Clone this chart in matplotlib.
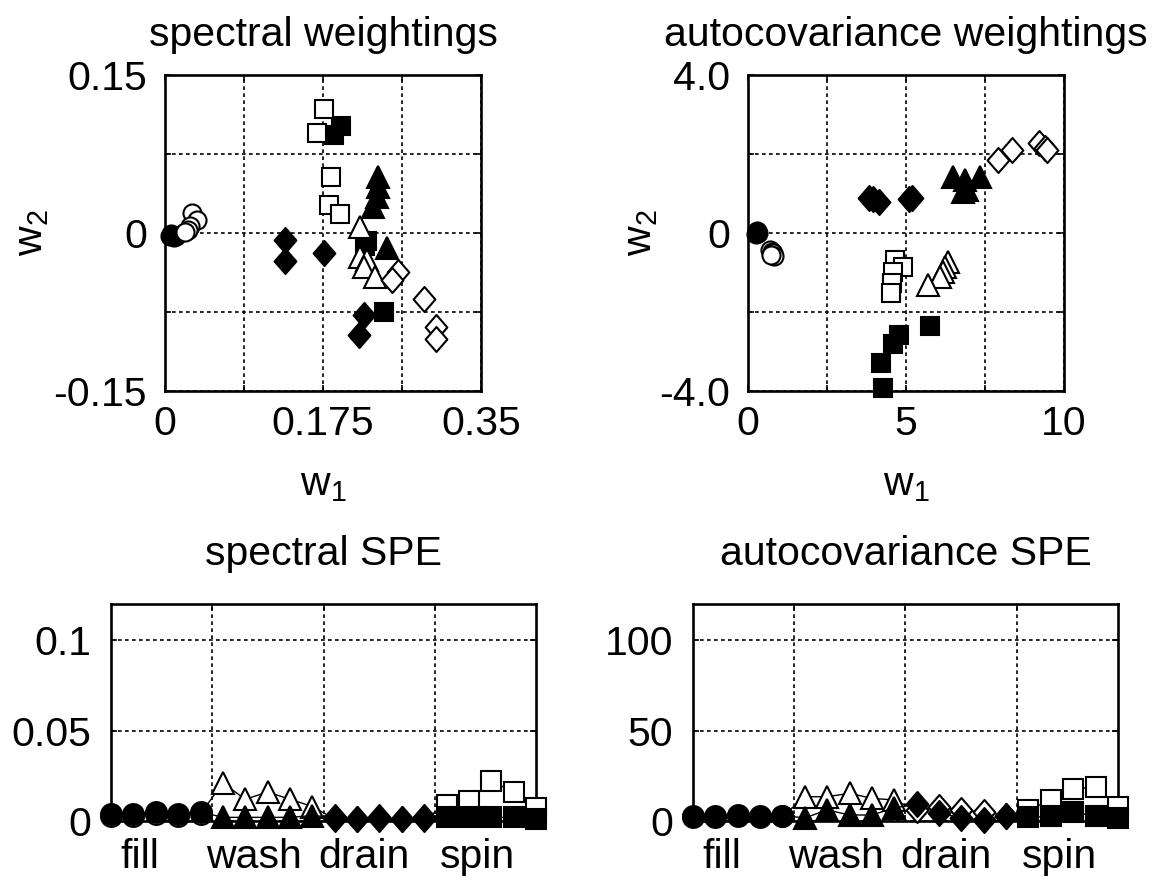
import matplotlib
matplotlib.use("agg")
import matplotlib.pyplot as plt
from matplotlib.path import Path
from matplotlib.ticker import FixedLocator, FixedFormatter

plt.rcParams['font.family'] = ['Liberation Sans', 'DejaVu Sans']
plt.rcParams['mathtext.fontset'] = 'custom'
plt.rcParams['mathtext.rm'] = 'Liberation Sans'
plt.rcParams['mathtext.it'] = 'Liberation Sans'
plt.rcParams['font.size'] = 29.5
plt.rcParams['axes.titlesize'] = 29.5

phases = ['fill', 'wash', 'drain', 'spin']
# 5 runs per phase, listed fill, wash, drain, spin
# "a" = filled markers, "b" = open markers

spec_w1_a = [0.005, 0.008, 0.010, 0.012, 0.007,
             0.236, 0.236, 0.235, 0.230, 0.246,
             0.133, 0.133, 0.176, 0.220, 0.215,
             0.195, 0.187, 0.243, 0.224, 0.221]
spec_w2_a = [-0.003, -0.002, -0.004, -0.003, -0.001,
             0.053, 0.044, 0.034, 0.025, -0.014,
             -0.007, -0.027, -0.019, -0.078, -0.097,
             0.102, 0.093, -0.075, -0.008, -0.012]
spec_w1_b = [0.030, 0.035, 0.028, 0.025, 0.022,
             0.216, 0.216, 0.224, 0.220, 0.233,
             0.258, 0.251, 0.287, 0.300, 0.300,
             0.176, 0.168, 0.184, 0.182, 0.194]
spec_w2_b = [0.019, 0.012, 0.007, 0.003, 0.001,
             0.006, -0.023, -0.026, -0.032, -0.042,
             -0.037, -0.045, -0.063, -0.089, -0.101,
             0.118, 0.095, 0.053, 0.027, 0.018]

acov_w1_a = [0.30, 0.28, 0.32, 0.26, 0.30,
             6.49, 6.87, 7.34, 6.80, 6.93,
             3.83, 4.15, 5.19, 3.95, 5.10,
             5.76, 4.78, 4.59, 4.21, 4.27]
acov_w2_a = [0.05, 0.02, 0.00, -0.02, 0.03,
             1.42, 1.34, 1.42, 1.04, 1.09,
             0.89, 0.78, 0.89, 0.85, 0.85,
             -2.35, -2.58, -2.81, -3.29, -3.92]
acov_w1_b = [0.70, 0.76, 0.79, 0.82, 0.74,
             6.33, 6.23, 6.17, 6.08, 5.70,
             7.91, 8.35, 9.21, 9.40, 9.46,
             4.65, 4.91, 4.59, 4.56, 4.53]
acov_w2_b = [-0.43, -0.48, -0.51, -0.58, -0.55,
             -0.73, -0.86, -0.99, -1.11, -1.32,
             1.85, 2.10, 2.28, 2.15, 2.10,
             -0.68, -0.86, -0.99, -1.27, -1.52]

spec_spe_a = [0.004, 0.004, 0.005, 0.004, 0.005,
              0.002, 0.002, 0.002, 0.002, 0.003,
              0.002, 0.001, 0.002, 0.001, 0.002,
              0.002, 0.002, 0.002, 0.002, 0.001]
spec_spe_b = [0.003, 0.003, 0.004, 0.003, 0.004,
              0.021, 0.012, 0.016, 0.012, 0.008,
              0.001, 0.001, 0.001, 0.001, 0.001,
              0.009, 0.011, 0.022, 0.016, 0.007]
acov_spe_a = [2.5, 2.5, 2.5, 2.5, 3.0,
              1.7, 6.1, 3.3, 3.3, 7.2,
              9.5, 4.5, 1.5, 0.5, 3.0,
              2.0, 2.5, 5.0, 2.5, 1.5]
acov_spe_b = [2.0, 2.0, 3.5, 2.0, 2.5,
              13.4, 13.4, 15.3, 12.5, 11.6,
              6.0, 7.5, 6.0, 5.0, 3.0,
              6.1, 11.6, 17.7, 18.8, 7.7]

# matlab-like diamond, a bit taller than wide
diamond = Path([(0, 1), (0.87, 0), (0, -1), (-0.87, 0), (0, 1)],
               [Path.MOVETO, Path.LINETO, Path.LINETO, Path.LINETO, Path.CLOSEPOLY])
markers = {'fill': 'o', 'wash': '^', 'drain': diamond, 'spin': 's'}
sizes_w = {'fill': 13, 'wash': 16, 'drain': 18, 'spin': 13}
sizes_spe = {'fill': 15, 'wash': 16.5, 'drain': 18, 'spin': 13.7}


def style_axes(ax):
    for s in ax.spines.values():
        s.set_linewidth(1.9)
    ax.tick_params(direction='in', top=True, right=True, length=4, width=1.2)
    ax.grid(True, which='major', color='k', linestyle=(0, (2.2, 2)), linewidth=1.2)
    ax.set_axisbelow(True)


def draw_phases(ax, xs, ys, filled, sizes, z):
    for i, ph in enumerate(phases):
        sl = slice(5 * i, 5 * i + 5)
        ax.plot(xs[sl], ys[sl], linestyle='none', marker=markers[ph],
                ms=sizes[ph], mec='k', mfc='k' if filled else 'w', mew=1.5,
                clip_on=False, zorder=z)


def weight_plot(ax, w1a, w2a, w1b, w2b, title, xt, xtl, yt, ytl, ylab_x):
    style_axes(ax)
    draw_phases(ax, w1a, w2a, True, sizes_w, 3)
    draw_phases(ax, w1b, w2b, False, sizes_w, 3)
    ax.set_xlim(xt[0], xt[-1])
    ax.set_ylim(yt[0], yt[-1])
    ax.xaxis.set_major_locator(FixedLocator(xt))
    ax.xaxis.set_major_formatter(FixedFormatter(xtl))
    ax.yaxis.set_major_locator(FixedLocator(yt))
    ax.yaxis.set_major_formatter(FixedFormatter(ytl))
    ax.tick_params(axis='x', pad=10)
    ax.tick_params(axis='y', pad=13)
    ax.set_title(title, pad=21)
    ax.set_xlabel(r'w$_\mathregular{1}$')
    ax.set_ylabel(r'w$_\mathregular{2}$')
    ax.xaxis.set_label_coords(0.5, -0.237)
    ax.yaxis.set_label_coords(ylab_x, 0.5)


def spe_plot(ax, spe_a, spe_b, title, ymax, yt, ytl):
    style_axes(ax)
    idx = list(range(1, 21))
    ax.plot(idx, spe_b, color='k', lw=1.0, clip_on=False, zorder=3)
    draw_phases(ax, idx, spe_b, False, sizes_spe, 3)
    ax.plot(idx, spe_a, color='k', lw=1.0, clip_on=False, zorder=4)
    draw_phases(ax, idx, spe_a, True, sizes_spe, 4)
    ax.set_xlim(1, 20)
    ax.set_ylim(0, ymax)
    ax.xaxis.set_major_locator(FixedLocator([5.5, 10.5, 15.5]))
    ax.xaxis.set_major_formatter(FixedFormatter(['', '', '']))
    ax.xaxis.set_minor_locator(FixedLocator([2.3, 7.4, 12.3, 17.4]))
    ax.xaxis.set_minor_formatter(FixedFormatter(phases))
    ax.tick_params(axis='x', which='minor', length=0, pad=12)
    ax.yaxis.set_major_locator(FixedLocator(yt))
    ax.yaxis.set_major_formatter(FixedFormatter(ytl))
    ax.tick_params(axis='y', pad=14)
    ax.set_title(title, pad=28)


fig = plt.figure(figsize=(11.58, 8.84), dpi=100)
ax1 = fig.add_axes([0.1425, 0.5577, 0.2729, 0.3575])
ax2 = fig.add_axes([0.6459, 0.5577, 0.2729, 0.3575])
ax3 = fig.add_axes([0.0959, 0.0713, 0.367, 0.2455])
ax4 = fig.add_axes([0.5984, 0.0713, 0.367, 0.2455])

weight_plot(ax1, spec_w1_a, spec_w2_a, spec_w1_b, spec_w2_b, 'spectral weightings',
            [0, 0.0875, 0.175, 0.2625, 0.35], ['0', '', '0.175', '', '0.35'],
            [-0.15, -0.075, 0, 0.075, 0.15], ['-0.15', '', '0', '', '0.15'], -0.36)
weight_plot(ax2, acov_w1_a, acov_w2_a, acov_w1_b, acov_w2_b, 'autocovariance weightings',
            [0, 2.5, 5, 7.5, 10], ['0', '', '5', '', '10'],
            [-4, -2, 0, 2, 4], ['-4.0', '', '0', '', '4.0'], -0.278)
spe_plot(ax3, spec_spe_a, spec_spe_b, 'spectral SPE', 0.12,
         [0, 0.05, 0.1], ['0', '0.05', '0.1'])
spe_plot(ax4, acov_spe_a, acov_spe_b, 'autocovariance SPE', 120,
         [0, 50, 100], ['0', '50', '100'])

fig.savefig('out.png', dpi=100)
